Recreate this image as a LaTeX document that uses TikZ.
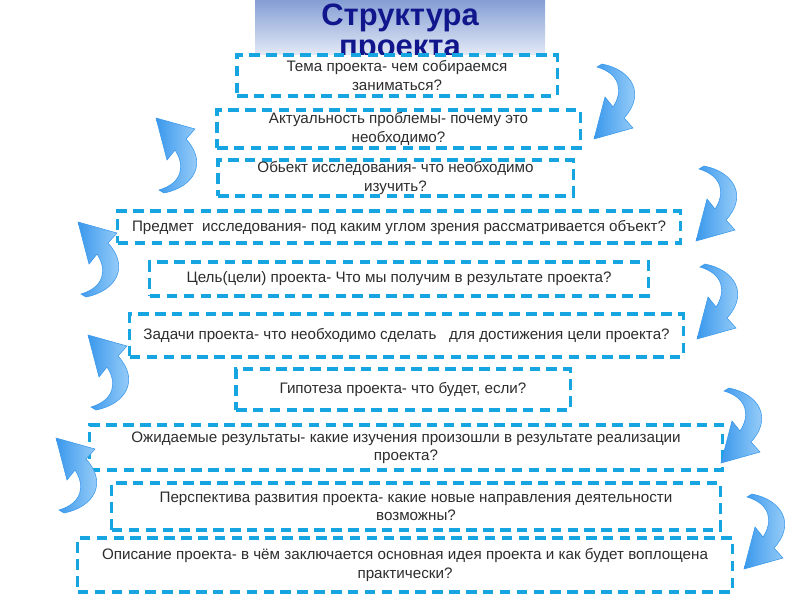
\documentclass[tikz,border=0pt]{standalone}
\usepackage{fontspec}
\setmainfont{Liberation Sans}
\usepackage{tikz}
\usetikzlibrary{calc}
\definecolor{dashblue}{RGB}{22,165,225}
\definecolor{boxtext}{RGB}{45,45,45}
\definecolor{titleblue}{RGB}{18,22,140}
\definecolor{titletop}{RGB}{132,158,212}
\definecolor{titlebottom}{RGB}{228,234,246}
\definecolor{arrowblue}{RGB}{58,152,236}
\definecolor{arrowlight}{RGB}{175,218,252}

\tikzset{
  stepbox/.style={draw=dashblue, line width=2.2pt, dash pattern=on 7.5pt off 4.5pt,
        fill=white, align=center, inner sep=1pt, text=boxtext,
        font=\fontsize{10.8}{13}\selectfont},
  curlarrow/.pic={
    \shade[left color=arrowblue, right color=arrowlight, draw=arrowblue, line width=0.4pt]
      (8,0) .. controls (38,6) and (52,30) .. (30,54) -- (39,64) -- (0,75) -- (11,33) -- (19,43)
      .. controls (29,28) and (27,10) .. (3,3) -- cycle;
  }
}

\begin{document}
\begin{tikzpicture}[x=0.025cm, y=-0.025cm]
    \useasboundingbox (0,0) rectangle (800,600);
    \shade[top color=titletop, bottom color=titlebottom] (255,0) rectangle (545,55);
    \node[text=titleblue, font=\fontsize{22}{22}\selectfont\bfseries, align=center] (titel) at (400,33) {Структура\\проекта};

    \node[stepbox, minimum width=8cm, minimum height=1.025cm] (tema) at (397,75.5)
        {Тема проекта- чем собираемся\\заниматься?};
    \node[stepbox, minimum width=9.075cm, minimum height=0.95cm] (aktual) at (398.5,129)
        {Актуальность проблемы- почему это\\необходимо?};
    \node[stepbox, minimum width=8.875cm, minimum height=0.9cm] (obekt) at (395.5,178)
        {Обьект исследования- что необходимо\\изучить?};
    \node[stepbox, minimum width=14.05cm, minimum height=0.8cm] (predmet) at (399,227)
        {Предмет~ исследования- под каким углом зрения рассматривается объект?};
    \node[stepbox, minimum width=12.45cm, minimum height=0.85cm] (cel) at (399,279)
        {Цель(цели) проекта- Что мы получим в результате проекта?};
    \node[stepbox, minimum width=13.825cm, minimum height=1.075cm] (zadachi) at (406.5,335.5)
        {Задачи проекта- что необходимо сделать~~ для достижения цели проекта?};
    \node[stepbox, minimum width=8.35cm, minimum height=1.025cm] (gipoteza) at (403,389.5)
        {Гипотеза проекта- что будет, если?};
    \node[stepbox, minimum width=15.8cm, minimum height=1.125cm] (rezult) at (406,447.5)
        {Ожидаемые результаты- какие изучения произошли в результате реализации\\проекта?};
    \node[stepbox, minimum width=15.2cm, minimum height=1.175cm] (perspektiva) at (416,506.5)
        {Перспектива развития проекта- какие новые направления деятельности\\возможны?};
    \node[stepbox, minimum width=16.35cm, minimum height=1.35cm] (opisanie) at (405,565)
        {Описание проекта- в чём заключается основная идея проекта и как будет воплощена\\практически?};

    \pic at (594,64) {curlarrow};
    \pic at (696,166) {curlarrow};
    \pic at (697,264) {curlarrow};
    \pic at (721,388) {curlarrow};
    \pic at (744,494) {curlarrow};
    \pic[yscale=-1] at (156,193) {curlarrow};
    \pic[yscale=-1] at (78,297) {curlarrow};
    \pic[yscale=-1] at (88,410) {curlarrow};
    \pic[yscale=-1] at (56,513) {curlarrow};
\end{tikzpicture}
\end{document}
